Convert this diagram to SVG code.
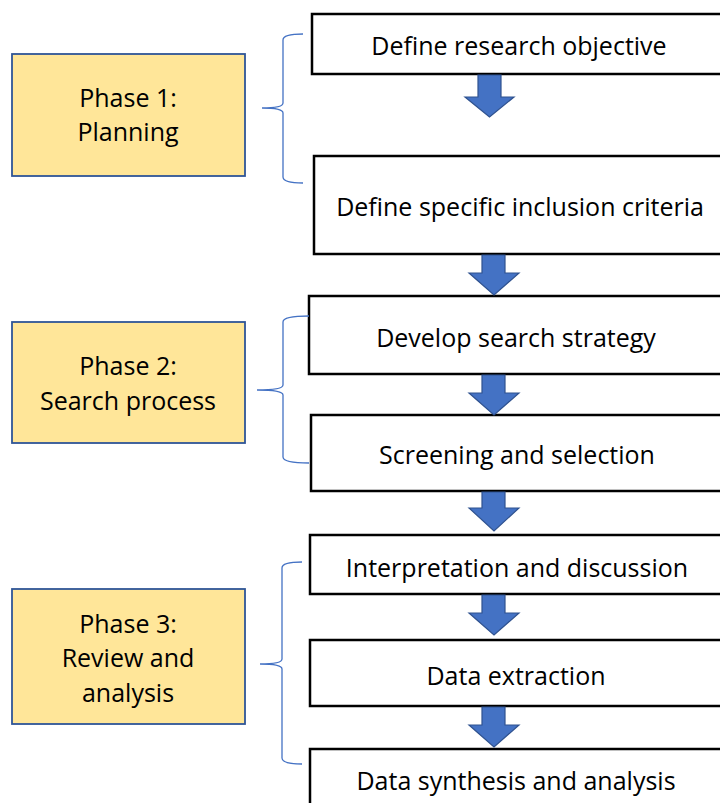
<svg xmlns="http://www.w3.org/2000/svg" width="720" height="803" viewBox="0 0 720 803">
<style>
.step{fill:#fff;stroke:#000;stroke-width:2.5}
.phase{fill:#FFE699;stroke:#2F5597;stroke-width:1.8}
.t{font-family:"Open Sans","Noto Sans",sans-serif;font-size:25px;fill:#000;text-anchor:middle}
.arr{fill:#4472C4;stroke:#2F528F;stroke-width:1.2}
.brace{fill:none;stroke:#4472C4;stroke-width:1.3}
</style>
<rect width="720" height="803" fill="#fff"/>
<g id="phase1"><rect class="phase" x="12" y="54" width="233" height="122"/><text class="t" x="128" y="107">Phase 1:</text><text class="t" x="128" y="141">Planning</text></g>
<g id="phase2"><rect class="phase" x="12" y="322" width="233" height="121"/><text class="t" x="128" y="375">Phase 2:</text><text class="t" x="128" y="410">Search process</text></g>
<g id="phase3"><rect class="phase" x="12" y="589" width="233" height="135"/><text class="t" x="128" y="633">Phase 3:</text><text class="t" x="128" y="667">Review and</text><text class="t" x="128" y="702">analysis</text></g>
<g id="step1"><rect class="step" x="312" y="14" width="420" height="60"/><text class="t" x="519" y="55">Define research objective</text></g>
<g id="step2"><rect class="step" x="314" y="156" width="420" height="98"/><text class="t" x="520" y="216">Define specific inclusion criteria</text></g>
<g id="step3"><rect class="step" x="309" y="296" width="420" height="78"/><text class="t" x="516" y="347">Develop search strategy</text></g>
<g id="step4"><rect class="step" x="311" y="415" width="420" height="76"/><text class="t" x="517" y="464">Screening and selection</text></g>
<g id="step5"><rect class="step" x="310" y="535" width="420" height="59"/><text class="t" x="517" y="577">Interpretation and discussion</text></g>
<g id="step6"><rect class="step" x="310" y="640" width="420" height="66"/><text class="t" x="516" y="685">Data extraction</text></g>
<g id="step7"><rect class="step" x="310" y="749" width="420" height="70"/><text class="t" x="516" y="790">Data synthesis and analysis</text></g>
<g id="connectors">
<polygon class="arr" points="478,75 501,75 501,97 514,97 489.5,117 465,97 478,97"/>
<polygon class="arr" points="482,255 505,255 505,273 519,273 494,295 469,273 482,273"/>
<polygon class="arr" points="482,375 505,375 505,393 519,393 494,415 469,393 482,393"/>
<polygon class="arr" points="482,492 505,492 505,508 519,508 494,531 469,508 482,508"/>
<polygon class="arr" points="482,595 505,595 505,613 519,613 494,635 469,613 482,613"/>
<polygon class="arr" points="482,707 505,707 505,725 519,725 494,747 469,725 482,725"/>
<path class="brace" d="M303,34 Q283,34 283,40 L283,103 Q283,108 262,108 Q283,108 283,113 L283,177 Q283,183 303,183"/>
<path class="brace" d="M309,316 Q283,316 283,322 L283,385 Q283,390 257,390 Q283,390 283,395 L283,457 Q283,463 309,463"/>
<path class="brace" d="M302,562 Q282,562 282,568 L282,659 Q282,664 260,664 Q282,664 282,669 L282,758 Q282,764 302,764"/>
</g>
</svg>
